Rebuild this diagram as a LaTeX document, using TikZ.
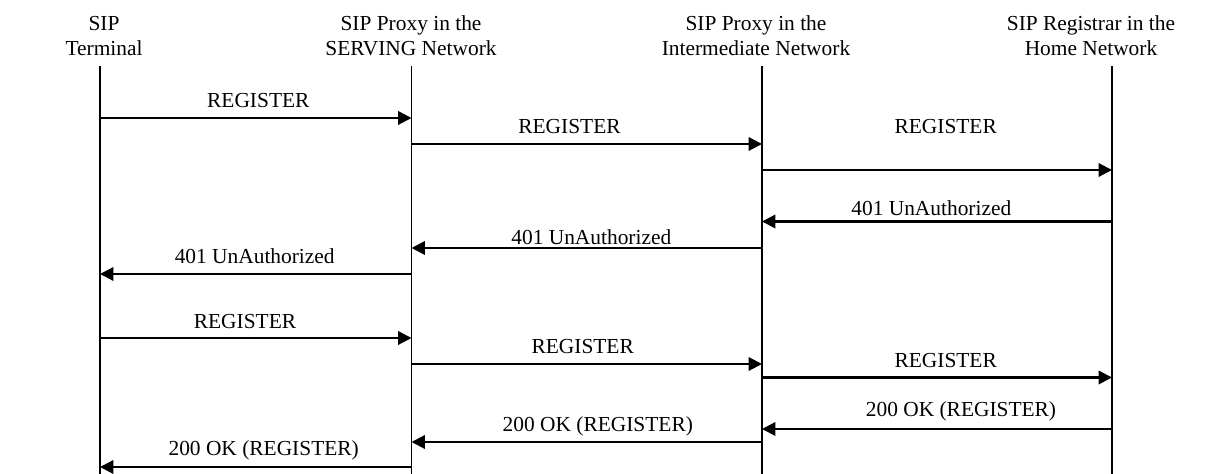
\documentclass[tikz,border=0pt]{standalone}
\usepackage{fontspec}
\setmainfont{Liberation Serif}
\usetikzlibrary{arrows.meta}
\begin{document}
\begin{tikzpicture}[x=0.5pt,y=-0.5pt,
  every node/.style={font=\fontsize{10.7}{12.75}\selectfont, inner sep=0pt},
  head/.style={align=center, anchor=base},
  lbl/.style={anchor=base},
  lifeline/.style={line width=0.55pt},
  msg/.style={line width=1.1pt, -{Triangle[length=6.7pt,width=6.7pt]}}]
\useasboundingbox (0,0) rectangle (1215,474);

% participants (base anchor sits on the second line)
\node[head] (hT) at (104,56)  {SIP\\Terminal};
\node[head] (hS) at (411,56)  {SIP Proxy in the\\SERVING Network};
\node[head] (hI) at (756,56)  {SIP Proxy in the\\Intermediate Network};
\node[head] (hH) at (1091,56) {SIP Registrar in the\\Home Network};

% lifelines
\coordinate (T) at (100,66.5);
\coordinate (S) at (411.5,66.5);
\coordinate (I) at (762,66.5);
\coordinate (H) at (1112,66.5);
\coordinate (Tb) at (100,474);
\coordinate (Sb) at (411.5,474);
\coordinate (Ib) at (762,474);
\coordinate (Hb) at (1112,474);
\draw[lifeline] (T) -- (Tb);
\draw[lifeline] (S) -- (Sb);
\draw[lifeline] (I) -- (Ib);
\draw[lifeline] (H) -- (Hb);

% first registration attempt
\draw[msg] (T |- 0,118) -- (S |- 0,118);
\node[lbl] (m1) at (258.3,108) {REGISTER};
\draw[msg] (S |- 0,144) -- (I |- 0,144);
\node[lbl] (m2) at (569.5,134) {REGISTER};
\draw[msg] (I |- 0,170) -- (H |- 0,170);
\node[lbl] (m3) at (945.7,134) {REGISTER};

% challenge
\draw[msg] (H |- 0,221.5) -- (I |- 0,221.5);
\node[lbl] (m4) at (931.3,216) {401 UnAuthorized};
\draw[msg] (I |- 0,248) -- (S |- 0,248);
\node[lbl] (m5) at (591.3,245) {401 UnAuthorized};
\draw[msg] (S |- 0,274) -- (T |- 0,274);
\node[lbl] (m6) at (254.7,264) {401 UnAuthorized};

% authenticated registration
\draw[msg] (T |- 0,338) -- (S |- 0,338);
\node[lbl] (m7) at (245,329) {REGISTER};
\draw[msg] (S |- 0,364) -- (I |- 0,364);
\node[lbl] (m8) at (582.7,354) {REGISTER};
\draw[msg] (I |- 0,377.5) -- (H |- 0,377.5);
\node[lbl] (m9) at (945.7,368) {REGISTER};

% success responses
\draw[msg] (H |- 0,429) -- (I |- 0,429);
\node[lbl] (m10) at (961,416.7) {200 OK (REGISTER)};
\draw[msg] (I |- 0,442) -- (S |- 0,442);
\node[lbl] (m11) at (597.8,431.7) {200 OK (REGISTER)};
\draw[msg] (S |- 0,467) -- (T |- 0,467);
\node[lbl] (m12) at (263.7,456) {200 OK (REGISTER)};
\end{tikzpicture}
\end{document}
